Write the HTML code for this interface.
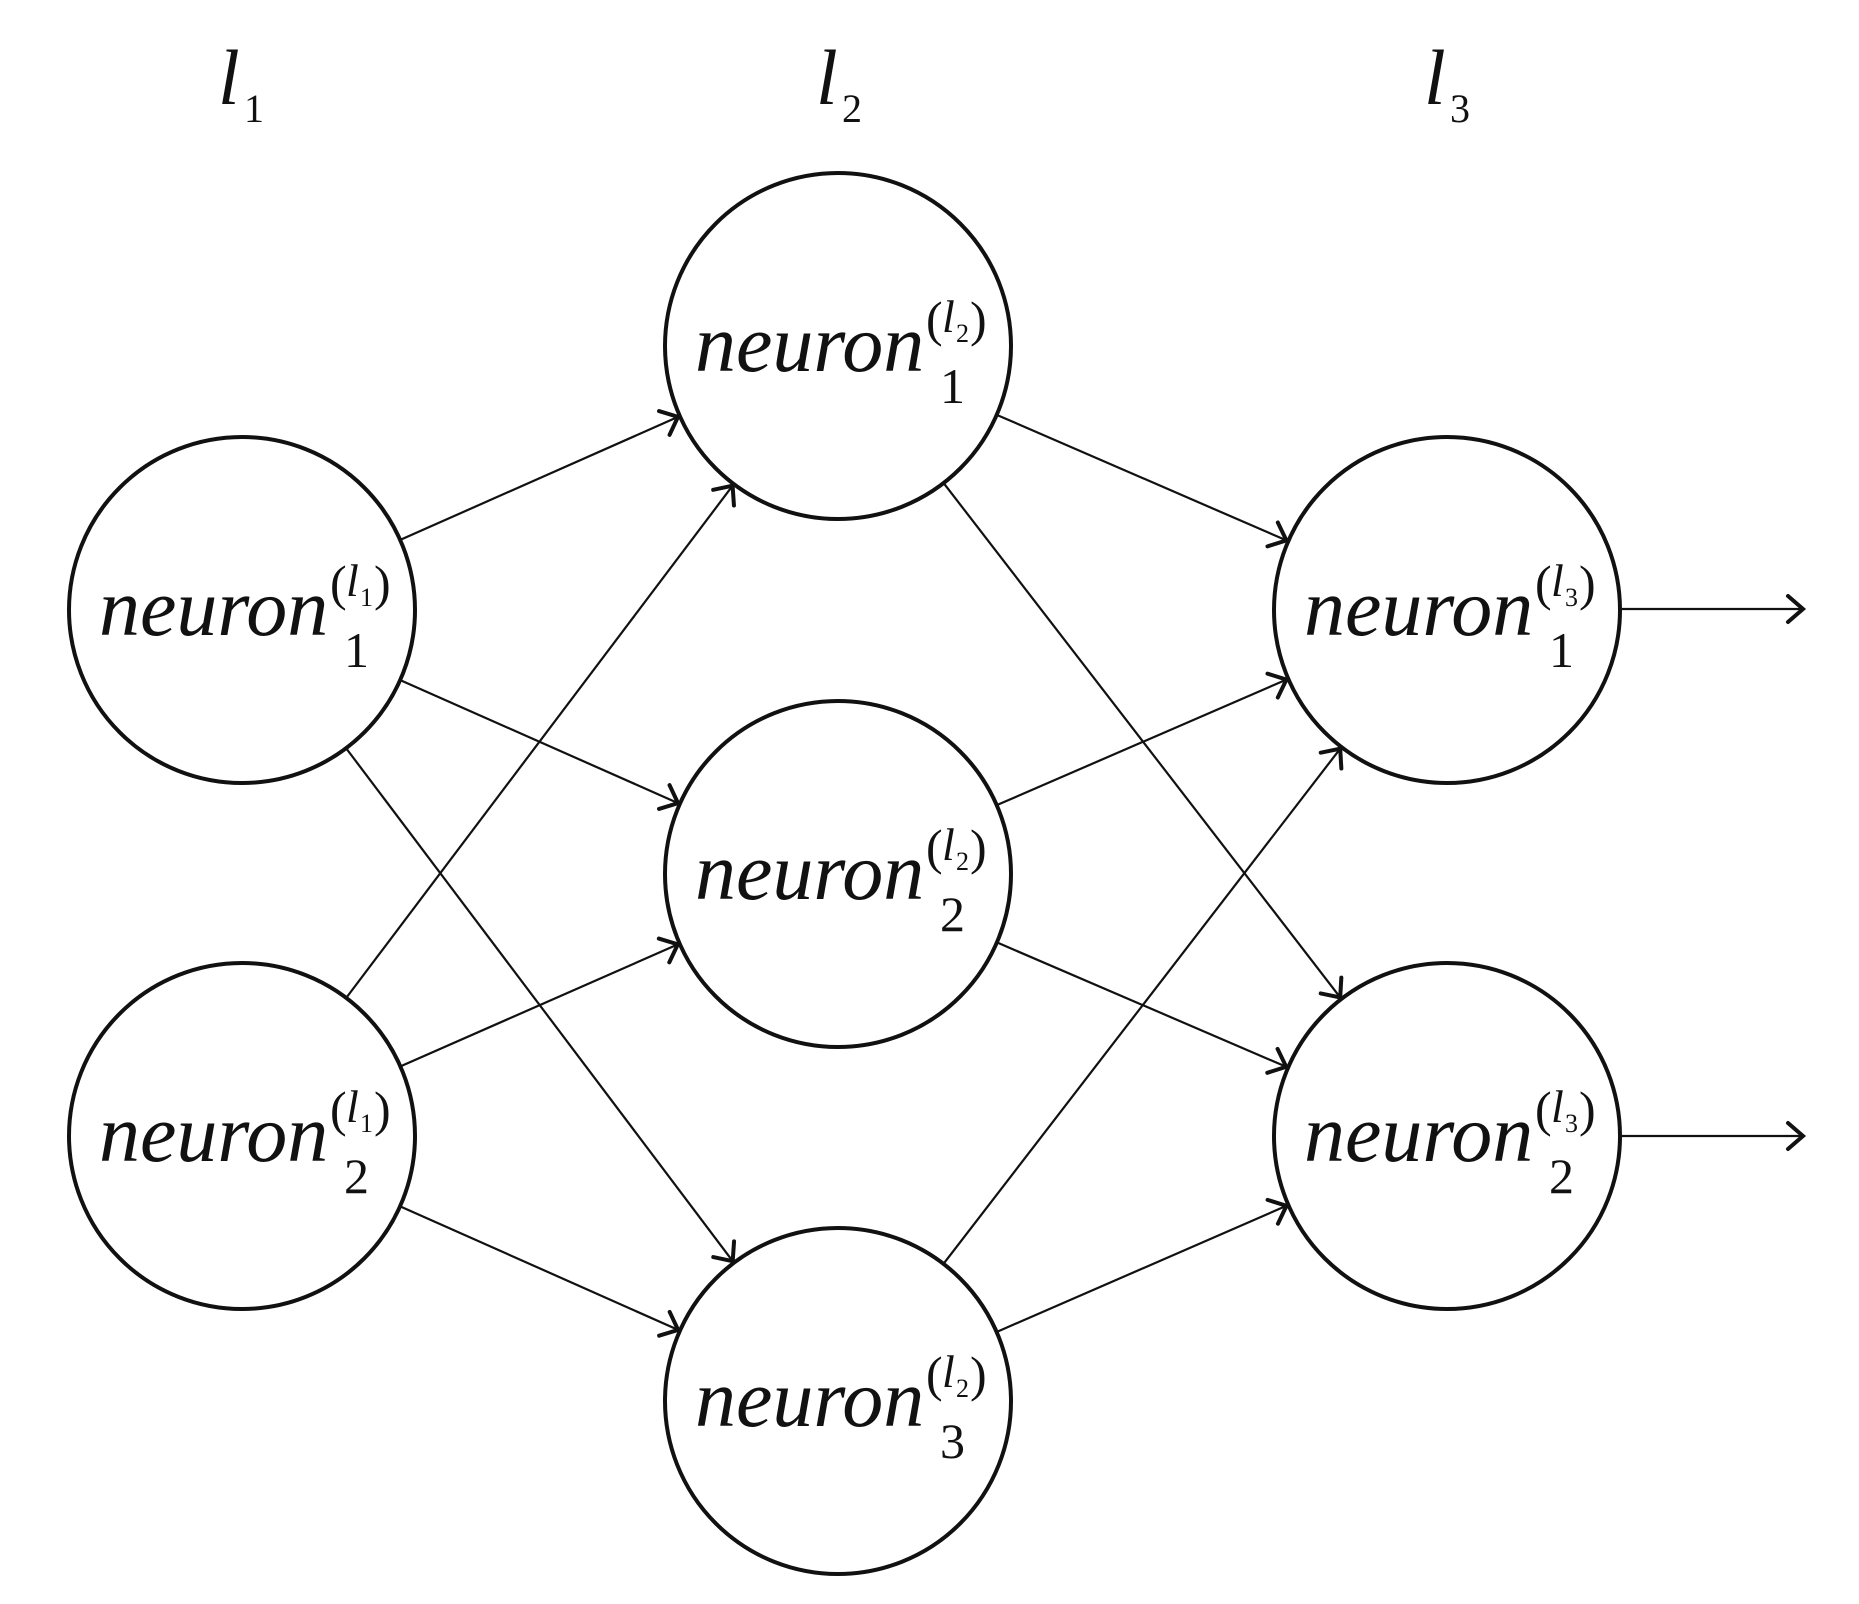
<!DOCTYPE html>
<html><head><meta charset="utf-8"><style>
html,body{margin:0;padding:0;background:#fff;}
svg{display:block;}
text{fill:#111;font-family:"Liberation Serif","DejaVu Serif",serif;}
.it{font-style:italic;}
</style></head><body>
<svg width="1859" height="1604" viewBox="0 0 1859 1604" xmlns="http://www.w3.org/2000/svg">
<defs>
<marker id="ah" markerUnits="userSpaceOnUse" markerWidth="40" markerHeight="40" viewBox="-20 -20 40 40" refX="0" refY="0" orient="auto">
<path d="M-15,-13 L0,0 L-15,13" fill="none" stroke="#111" stroke-width="4" stroke-linecap="round" stroke-linejoin="miter"/>
</marker>
</defs>
<g stroke="#111" stroke-width="2.2" fill="none" marker-end="url(#ah)">
<line x1="401.1" y1="539.5" x2="678.0" y2="416.9"/>
<line x1="401.1" y1="680.5" x2="678.0" y2="803.1"/>
<line x1="346.7" y1="749.0" x2="732.7" y2="1261.2"/>
<line x1="346.8" y1="997.1" x2="732.6" y2="485.7"/>
<line x1="401.3" y1="1066.0" x2="677.8" y2="944.4"/>
<line x1="401.0" y1="1206.7" x2="678.1" y2="1329.9"/>
<line x1="997.6" y1="415.2" x2="1286.4" y2="540.4"/>
<line x1="944.2" y1="483.8" x2="1340.2" y2="997.4"/>
<line x1="997.6" y1="804.8" x2="1286.4" y2="679.6"/>
<line x1="997.8" y1="942.8" x2="1286.2" y2="1066.8"/>
<line x1="944.1" y1="1263.1" x2="1340.2" y2="748.7"/>
<line x1="997.5" y1="1331.6" x2="1286.5" y2="1205.8"/>
<line x1="1622" y1="609" x2="1803" y2="609"/>
<line x1="1622" y1="1136" x2="1803" y2="1136"/>
</g>
<g stroke="#111" stroke-width="4" fill="#fff">
<circle cx="242" cy="610" r="173"/>
<circle cx="242" cy="1136" r="173"/>
<circle cx="838" cy="346" r="173"/>
<circle cx="838" cy="874" r="173"/>
<circle cx="838" cy="1401" r="173"/>
<circle cx="1447" cy="610" r="173"/>
<circle cx="1447" cy="1136" r="173"/>
</g>
<text class="it" x="218" y="104" font-size="78">l</text><text x="244" y="122" font-size="40">1</text>
<text class="it" x="816" y="104" font-size="78">l</text><text x="842" y="122" font-size="40">2</text>
<text class="it" x="1424" y="104" font-size="78">l</text><text x="1450" y="122" font-size="40">3</text>

<g>
<text class="it" x="99" y="635" font-size="82">neuron</text>
<text x="330" y="600" font-size="50">(</text><text class="it" x="346" y="596" font-size="46">l</text><text x="360" y="606" font-size="26">1</text><text x="374" y="600" font-size="50">)</text>
<text x="344" y="667" font-size="50">1</text>
</g>
<g>
<text class="it" x="99" y="1161" font-size="82">neuron</text>
<text x="330" y="1126" font-size="50">(</text><text class="it" x="346" y="1122" font-size="46">l</text><text x="360" y="1132" font-size="26">1</text><text x="374" y="1126" font-size="50">)</text>
<text x="344" y="1193" font-size="50">2</text>
</g>
<g>
<text class="it" x="695" y="371" font-size="82">neuron</text>
<text x="926" y="336" font-size="50">(</text><text class="it" x="942" y="332" font-size="46">l</text><text x="956" y="342" font-size="26">2</text><text x="970" y="336" font-size="50">)</text>
<text x="940" y="403" font-size="50">1</text>
</g>
<g>
<text class="it" x="695" y="899" font-size="82">neuron</text>
<text x="926" y="864" font-size="50">(</text><text class="it" x="942" y="860" font-size="46">l</text><text x="956" y="870" font-size="26">2</text><text x="970" y="864" font-size="50">)</text>
<text x="940" y="931" font-size="50">2</text>
</g>
<g>
<text class="it" x="695" y="1426" font-size="82">neuron</text>
<text x="926" y="1391" font-size="50">(</text><text class="it" x="942" y="1387" font-size="46">l</text><text x="956" y="1397" font-size="26">2</text><text x="970" y="1391" font-size="50">)</text>
<text x="940" y="1458" font-size="50">3</text>
</g>
<g>
<text class="it" x="1304" y="635" font-size="82">neuron</text>
<text x="1535" y="600" font-size="50">(</text><text class="it" x="1551" y="596" font-size="46">l</text><text x="1565" y="606" font-size="26">3</text><text x="1579" y="600" font-size="50">)</text>
<text x="1549" y="667" font-size="50">1</text>
</g>
<g>
<text class="it" x="1304" y="1161" font-size="82">neuron</text>
<text x="1535" y="1126" font-size="50">(</text><text class="it" x="1551" y="1122" font-size="46">l</text><text x="1565" y="1132" font-size="26">3</text><text x="1579" y="1126" font-size="50">)</text>
<text x="1549" y="1193" font-size="50">2</text>
</g>
</svg>
</body></html>
